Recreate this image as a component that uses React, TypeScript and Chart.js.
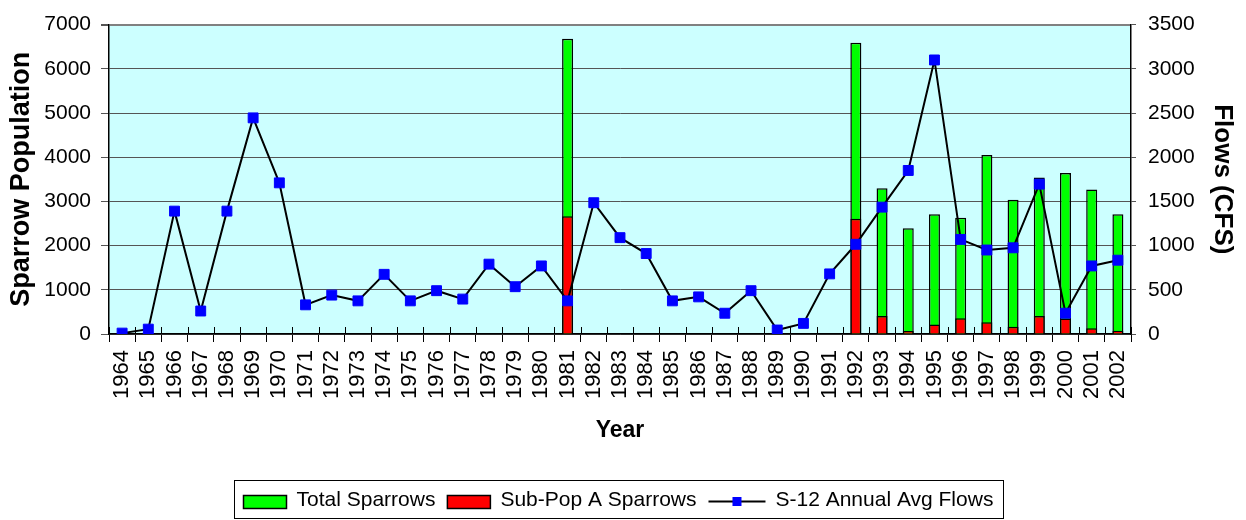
import React, { useEffect, useRef } from 'react';
import { Chart, registerables } from 'chart.js';

Chart.register(...registerables);

const years = [
  '1964', '1965', '1966', '1967', '1968', '1969', '1970', '1971', '1972', '1973',
  '1974', '1975', '1976', '1977', '1978', '1979', '1980', '1981', '1982', '1983',
  '1984', '1985', '1986', '1987', '1988', '1989', '1990', '1991', '1992', '1993',
  '1994', '1995', '1996', '1997', '1998', '1999', '2000', '2001', '2002',
];

const totalSparrows = [
  null, null, null, null, null, null, null, null, null, null,
  null, null, null, null, null, null, null, 6680, null, null,
  null, null, null, null, null, null, null, null, 6590, 3300,
  2390, 2710, 2630, 4050, 3040, 3540, 3640, 3270, 2710,
];

const subPopA = [
  null, null, null, null, null, null, null, null, null, null,
  null, null, null, null, null, null, null, 2665, null, null,
  null, null, null, null, null, null, null, null, 2610, 405,
  70, 215, 355, 265, 165, 405, 350, 130, 75,
];

const flows = [
  10, 55, 1390, 260, 1390, 2445, 1710, 330, 440, 375,
  675, 375, 490, 395, 790, 535, 770, 375, 1485, 1090,
  910, 375, 420, 235, 490, 45, 120, 680, 1015, 1435,
  1850, 3100, 1070, 950, 975, 1695, 235, 770, 835,
];

const leftTicks = [0, 1000, 2000, 3000, 4000, 5000, 6000, 7000];
const rightTicks = [0, 500, 1000, 1500, 2000, 2500, 3000, 3500];

const FONT = "'Liberation Sans', Arial, sans-serif";

const plotBg = {
  id: 'plotBg',
  beforeDraw(chart: any) {
    const { ctx, chartArea } = chart;
    ctx.save();
    ctx.fillStyle = '#CCFFFF';
    ctx.fillRect(chartArea.left, chartArea.top, chartArea.right - chartArea.left, chartArea.bottom - chartArea.top);
    ctx.restore();
  },
};

const xTicksUp = {
  id: 'xTicksUp',
  afterDatasetsDraw(chart: any) {
    const { ctx } = chart;
    const xs = chart.scales.x;
    const n = xs.ticks.length;
    const half = (xs.getPixelForTick(1) - xs.getPixelForTick(0)) / 2;
    ctx.save();
    ctx.strokeStyle = '#000';
    ctx.lineWidth = 1;
    for (let i = 0; i <= n; i++) {
      const px = Math.round(xs.getPixelForTick(Math.min(i, n - 1)) + (i === n ? half : -half)) + 0.5;
      ctx.beginPath();
      ctx.moveTo(px, xs.top - 7);
      ctx.lineTo(px, xs.top);
      ctx.stroke();
    }
    ctx.restore();
  },
};

const boxLegend = {
  id: 'boxLegend',
  afterDraw(chart: any) {
    const { ctx, chartArea } = chart;
    ctx.save();
    ctx.font = `21px ${FONT}`;
    ctx.textBaseline = 'middle';
    const items = [
      { kind: 'bar', color: '#00FF00', text: chart.data.datasets[2].label },
      { kind: 'bar', color: '#FF0000', text: chart.data.datasets[1].label },
      { kind: 'line', color: '#0000FF', text: chart.data.datasets[0].label },
    ];
    const padL = 9, padR = 10, swW = 43, lineW = 57, gap1 = 10, gap2 = 12;
    let total = padL + padR;
    items.forEach((it, i) => {
      total += (it.kind === 'bar' ? swW : lineW) + gap1 + ctx.measureText(it.text).width;
      if (i < items.length - 1) total += gap2;
    });
    const cx = (chartArea.left + chartArea.right) / 2 - 2;
    const left = Math.round(cx - total / 2) + 0.5;
    const top = 480.5;
    const h = 38;
    ctx.strokeStyle = '#000';
    ctx.lineWidth = 1;
    ctx.strokeRect(left, top, Math.round(total), h);
    let x = left + padL;
    const cy = top + h / 2;
    items.forEach((it) => {
      if (it.kind === 'bar') {
        ctx.fillStyle = it.color;
        ctx.fillRect(x, cy - 4, swW, 13);
        ctx.lineWidth = 1.5;
        ctx.strokeStyle = '#000';
        ctx.strokeRect(x, cy - 4, swW, 13);
        x += swW + gap1;
      } else {
        ctx.strokeStyle = '#000';
        ctx.lineWidth = 2;
        ctx.beginPath();
        ctx.moveTo(x, cy + 2);
        ctx.lineTo(x + lineW, cy + 2);
        ctx.stroke();
        ctx.fillStyle = it.color;
        ctx.fillRect(x + lineW / 2 - 4.5, cy + 2 - 4.5, 9, 9);
        x += lineW + gap1;
      }
      ctx.fillStyle = '#000';
      ctx.fillText(it.text, x, cy + 1);
      x += ctx.measureText(it.text).width + gap2;
    });
    ctx.restore();
  },
};

export default function App() {
  const ref = useRef<HTMLCanvasElement | null>(null);

  useEffect(() => {
    if (!ref.current) return;
    const chart = new Chart(ref.current, {
      type: 'bar',
      data: {
        labels: years,
        datasets: [
          {
            type: 'line',
            label: 'S-12 Annual Avg Flows',
            data: flows,
            yAxisID: 'y1',
            order: 0,
            borderColor: '#000000',
            borderWidth: 2,
            pointStyle: 'rect',
            pointRadius: 7,
            pointBackgroundColor: '#0000FF',
            pointBorderColor: '#0000FF',
            pointBorderWidth: 1,
            tension: 0,
          } as any,
          {
            type: 'bar',
            label: 'Sub-Pop A Sparrows',
            data: subPopA,
            yAxisID: 'y',
            order: 1,
            grouped: false,
            backgroundColor: '#FF0000',
            borderColor: '#000000',
            borderWidth: 1.5,
            barPercentage: 0.42,
            categoryPercentage: 1,
          } as any,
          {
            type: 'bar',
            label: 'Total Sparrows',
            data: totalSparrows,
            yAxisID: 'y',
            order: 2,
            grouped: false,
            backgroundColor: '#00FF00',
            borderColor: '#000000',
            borderWidth: 1.5,
            barPercentage: 0.42,
            categoryPercentage: 1,
          } as any,
        ],
      },
      options: {
        responsive: false,
        animation: false,
        layout: { padding: { top: 24, left: 0, right: 0, bottom: 66 } },
        plugins: {
          legend: { display: false },
          tooltip: { enabled: false },
        },
        scales: {
          x: {
            type: 'category',
            offset: true,
            grid: {
              display: true,
              offset: true,
              drawOnChartArea: false,
              tickLength: 8,
              tickColor: '#000',
              tickWidth: 1,
            },
            border: { display: true, color: '#000', width: 1.5 },
            ticks: {
              autoSkip: false,
              maxRotation: 90,
              minRotation: 90,
              padding: 8,
              color: '#000',
              font: { family: FONT, size: 22 },
            },
            title: {
              display: true,
              text: 'Year',
              color: '#000',
              font: { family: FONT, size: 23, weight: 'bold' },
              padding: { top: 0, bottom: 10 },
            },
            afterFit(scale: any) {
              scale.height = 120;
            },
          },
          y: {
            position: 'left',
            min: 0,
            max: 7000,
            afterBuildTicks(scale: any) {
              scale.ticks = leftTicks.map((v) => ({ value: v }));
            },
            grid: {
              color: (c: any) => (c.tick && c.tick.value === 7000 ? '#808080' : '#555555'),
              lineWidth: (c: any) => (c.tick && c.tick.value === 7000 ? 2 : 1),
              tickLength: 8,
              tickColor: '#555555',
            },
            border: { display: true, color: '#000', width: 1.5 },
            ticks: {
              padding: 10,
              color: '#000',
              font: { family: FONT, size: 21 },
              callback: (v: any) => String(v),
            },
            title: {
              display: true,
              text: 'Sparrow Population',
              color: '#000',
              font: { family: FONT, size: 27, weight: 'bold' },
              padding: { top: 5, bottom: 0 },
            },
            afterFit(scale: any) {
              scale.width = 109;
            },
          },
          y1: {
            position: 'right',
            min: 0,
            max: 3500,
            afterBuildTicks(scale: any) {
              scale.ticks = rightTicks.map((v) => ({ value: v }));
            },
            grid: {
              drawOnChartArea: false,
              tickLength: 5,
              tickColor: '#555555',
            },
            border: { display: true, color: '#000', width: 1.5 },
            ticks: {
              padding: 12,
              color: '#000',
              font: { family: FONT, size: 21 },
              callback: (v: any) => String(v),
            },
            title: {
              display: true,
              text: 'Flows (CFS)',
              color: '#000',
              font: { family: FONT, size: 26, weight: 'bold' },
              padding: { top: 8, bottom: 0 },
            },
            afterFit(scale: any) {
              scale.width = 115;
            },
          },
        },
      },
      plugins: [plotBg, xTicksUp, boxLegend],
    });
    return () => chart.destroy();
  }, []);

  return (
    <div style={{ position: 'absolute', left: 0, top: 0, width: 1246, height: 520, background: '#fff' }}>
      <canvas ref={ref} width={1246} height={520} style={{ width: 1246, height: 520, display: 'block' }} />
    </div>
  );
}
